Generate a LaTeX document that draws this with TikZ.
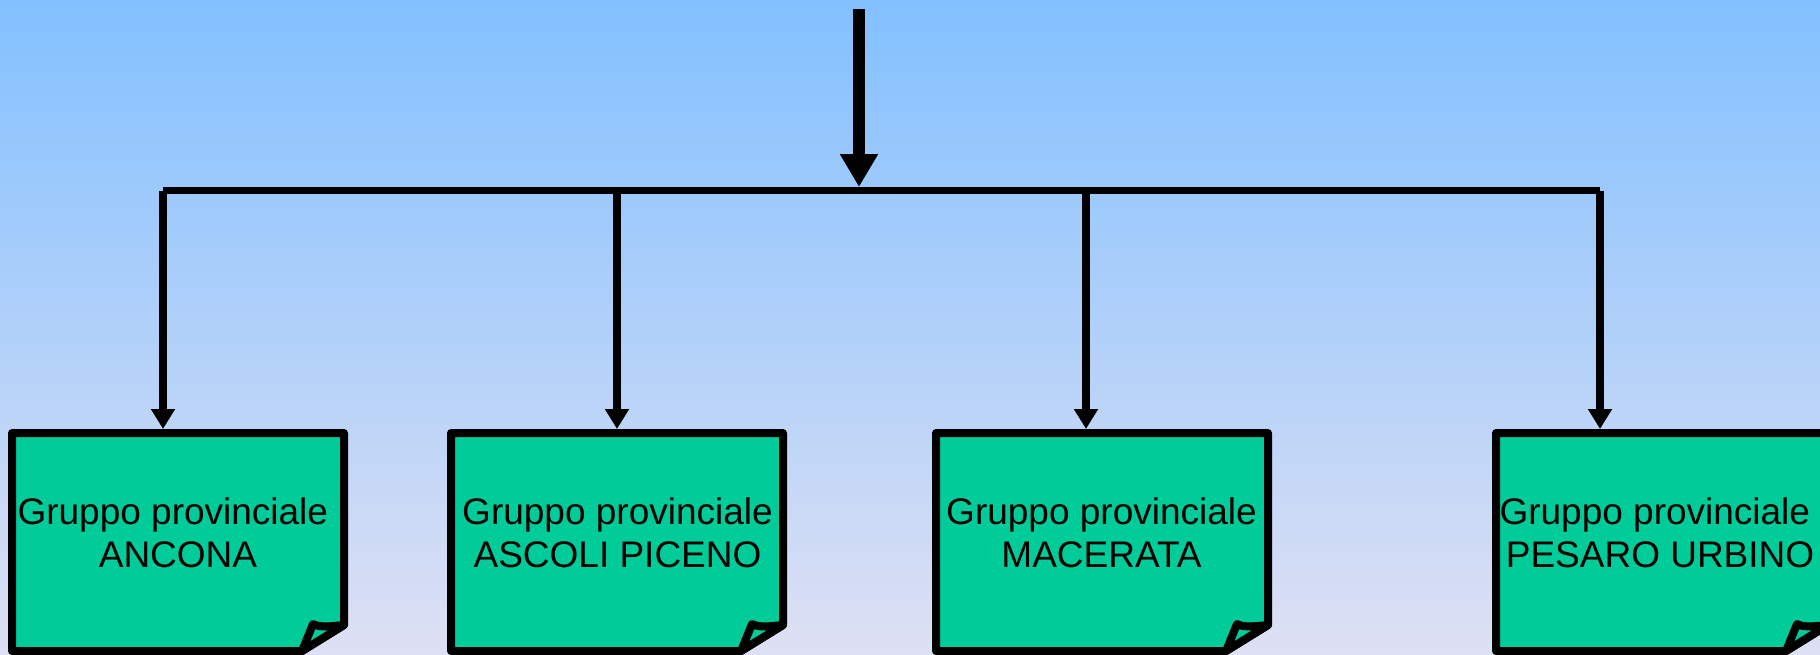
\documentclass[tikz,border=0pt]{standalone}
\usepackage{fontspec}
\setmainfont{Liberation Sans}
\usetikzlibrary{arrows.meta}
\definecolor{cielo}{RGB}{130,192,255}
\definecolor{lavanda}{RGB}{222,224,243}
\definecolor{verde}{RGB}{0,204,153}

\begin{document}
\begin{tikzpicture}[x=0.5pt, y=-0.5pt,
    cartella/.style={fill=verde, draw=black, line width=4pt, line join=round},
    ramo/.style={draw=black, line width=4pt, -{Triangle[width=11.5pt, length=10pt]}},
    testo/.style={anchor=north, inner sep=0pt, align=center, font=\fontsize{18.5}{21.5}\selectfont}]
    \clip (0,0) rectangle (1820,654);
    \shade[top color=cielo, bottom color=lavanda] (0,0) rectangle (1820,654);

    % the four folders with the curled corner
    \draw[cartella] (12,433) -- (344,433) -- (344,625) -- (302,651) -- (12,651) -- cycle;
    \draw[cartella] (302,651) -- (313,624) .. controls (320,628) and (333,626) .. (344,625) -- cycle;

    \draw[cartella] (451,433) -- (783,433) -- (783,625) -- (741,651) -- (451,651) -- cycle;
    \draw[cartella] (741,651) -- (752,624) .. controls (759,628) and (772,626) .. (783,625) -- cycle;

    \draw[cartella] (936,433) -- (1268,433) -- (1268,625) -- (1226,651) -- (936,651) -- cycle;
    \draw[cartella] (1226,651) -- (1237,624) .. controls (1244,628) and (1257,626) .. (1268,625) -- cycle;

    \draw[cartella] (1496,433) -- (1828,433) -- (1828,625) -- (1786,651) -- (1496,651) -- cycle;
    \draw[cartella] (1786,651) -- (1797,624) .. controls (1804,628) and (1817,626) .. (1828,625) -- cycle;

    \node[testo] (ancona) at (178,497) {Gruppo provinciale\hspace*{0.28em}\\ANCONA};
    \node[testo] (ascoli) at (617.5,497) {Gruppo provinciale\\ASCOLI PICENO};
    \node[testo] (macerata) at (1101.5,497) {Gruppo provinciale\\MACERATA};
    \node[testo] (pesaro) at (1660,497) {Gruppo provinciale\hspace*{0.28em}\\PESARO URBINO};

    % arrows
    \coordinate (inizio) at (859,9);
    \coordinate (snodo) at (859,187);
    \coordinate (cima) at (0,429);
    \coordinate (r1) at (163,190.5);
    \coordinate (r2) at (617,190.5);
    \coordinate (r3) at (1086,190.5);
    \coordinate (r4) at (1600,190.5);

    \draw[line width=6pt, -{Triangle[width=18pt, length=16.5pt]}] (inizio) -- (snodo);
    \draw[line width=3.5pt] (r1) -- (r4);
    \draw[ramo] (r1) -- (r1 |- cima);
    \draw[ramo] (r2) -- (r2 |- cima);
    \draw[ramo] (r3) -- (r3 |- cima);
    \draw[ramo] (r4) -- (r4 |- cima);
\end{tikzpicture}
\end{document}
